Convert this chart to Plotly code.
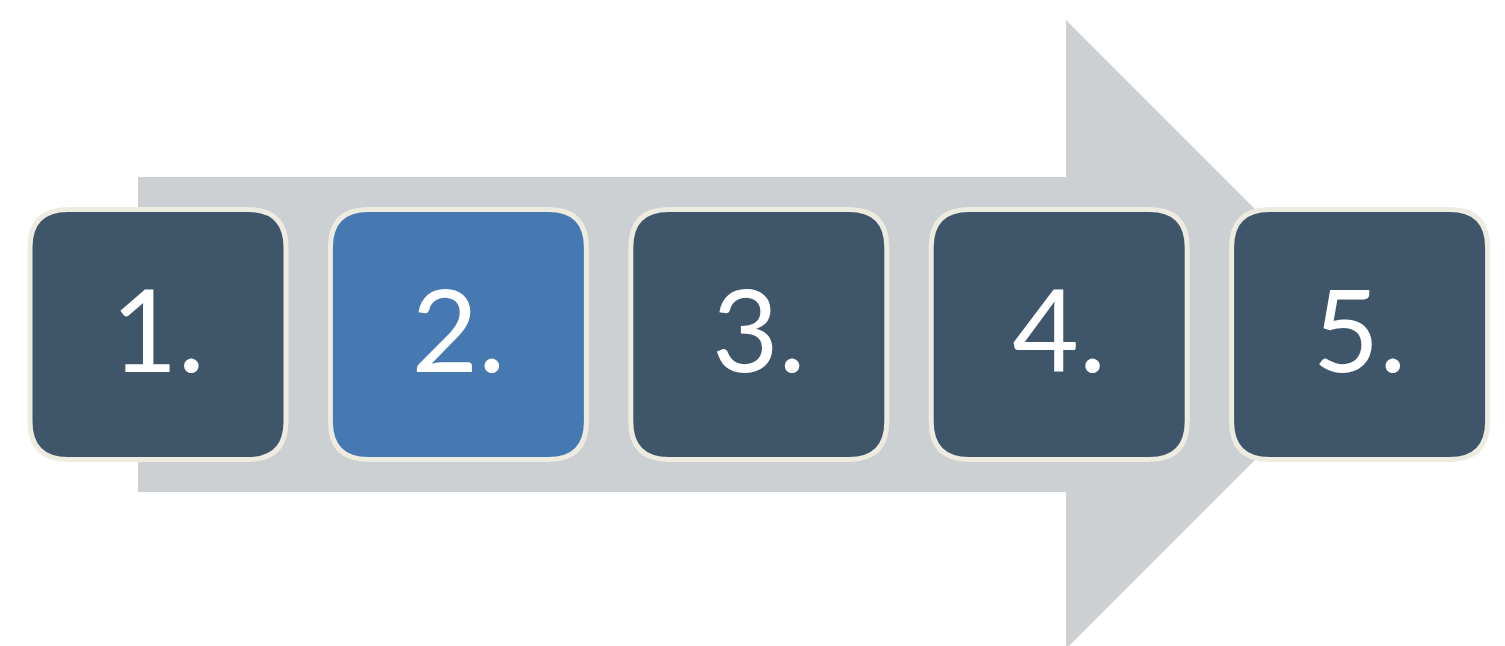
import plotly.graph_objects as go

# ---- data ----
steps = ["1.", "2.", "3.", "4.", "5."]
highlight = [False, True, False, False, False]

# ---- styles ----
W, H = 1505, 646
arrow_color = "#CDD0D3"
box_color = "#3E556A"
hi_color = "#4679B1"
border_color = "#EEEBE0"
text_color = "#FFFFFF"

# layout geometry (pixel-based coordinate system)
first_cx = 158
pitch = 300.4
cy = 334.5
box_w = 256
box_h = 250
radius = 38
text_dy = 9

shaft_x0, shaft_x1 = 138, 1066
shaft_y0, shaft_y1 = 177, 492
head_y0 = 20
head_half = cy - head_y0
tip_x = shaft_x1 + head_half


def rounded_rect(cx, cy, w, h, r):
    x0, x1 = cx - w / 2, cx + w / 2
    y0, y1 = cy - h / 2, cy + h / 2
    return (f"M {x0 + r},{y0} L {x1 - r},{y0} Q {x1},{y0} {x1},{y0 + r} "
            f"L {x1},{y1 - r} Q {x1},{y1} {x1 - r},{y1} "
            f"L {x0 + r},{y1} Q {x0},{y1} {x0},{y1 - r} "
            f"L {x0},{y0 + r} Q {x0},{y0} {x0 + r},{y0} Z")


shapes = []
arrow_path = (f"M {shaft_x0},{shaft_y0} L {shaft_x1},{shaft_y0} L {shaft_x1},{head_y0} "
              f"L {tip_x},{cy} L {shaft_x1},{cy + head_half} L {shaft_x1},{shaft_y1} "
              f"L {shaft_x0},{shaft_y1} Z")
shapes.append(dict(type="path", path=arrow_path, fillcolor=arrow_color,
                   line=dict(width=0), layer="below", xref="x", yref="y"))

centers = [first_cx + i * pitch for i in range(len(steps))]
for cx, hi in zip(centers, highlight):
    shapes.append(dict(type="path", path=rounded_rect(cx, cy, box_w, box_h, radius),
                       fillcolor=hi_color if hi else box_color,
                       line=dict(color=border_color, width=5),
                       layer="below", xref="x", yref="y"))

fig = go.Figure()
fig.add_trace(go.Scatter(
    x=centers, y=[cy + text_dy] * len(steps), text=steps, mode="text",
    textposition="middle center",
    textfont=dict(family="Lato", size=115, color=text_color),
    hoverinfo="skip", showlegend=False))

fig.update_layout(
    width=W, height=H, margin=dict(l=0, r=0, t=0, b=0),
    paper_bgcolor="white", plot_bgcolor="white",
    shapes=shapes, showlegend=False,
    xaxis=dict(range=[0, W], visible=False, fixedrange=True),
    yaxis=dict(range=[H, 0], visible=False, fixedrange=True),
)

fig.write_html("out.html", config={"displayModeBar": False},
               post_script="document.body.style.margin='0';document.body.style.overflow='hidden';")
